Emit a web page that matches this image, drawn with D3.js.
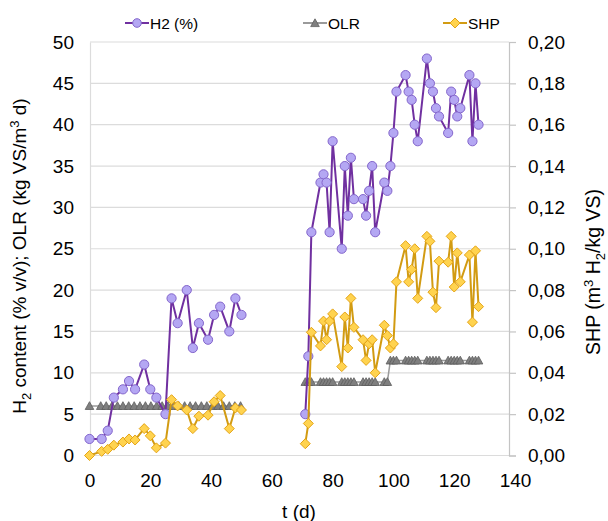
<!DOCTYPE html>
<html><head><meta charset="utf-8">
<script src="https://cdn.jsdelivr.net/npm/d3@7"></script>
<style>
html,body{margin:0;padding:0;background:#fff;}
text{font-family:"Liberation Sans",Arial,sans-serif;fill:#000;}
</style></head>
<body><svg id="c" width="608" height="521"></svg>
<script>
// ---------- data ----------
const xTicks = [0,20,40,60,80,100,120,140];
const leftTicks = [0,5,10,15,20,25,30,35,40,45,50];
const rightTicks = [0,0.02,0.04,0.06,0.08,0.10,0.12,0.14,0.16,0.18,0.20];

// phase 1 (days 0-50)
const tP1 = [0,4,6,8,11,13,15,18,20,22,25,27,29,32,34,36,39,41,43,46,48,50];
const h2P1 = [2,2,3,7,8,9,8,11,8,7,5,19,16,20,13,16,14,17,18,15,19,17];
const shpP1 = [0.000,0.002,0.003,0.005,0.0065,0.008,0.0075,0.013,0.0095,0.0037,0.006,0.027,0.024,0.022,0.013,0.019,0.0195,0.026,0.029,0.013,0.023,0.022];

// phase 2 (days 71-128)
const tP2 = [71,72,73,76,77,78,79,80,83,84,85,86,87,90,91,92,93,94,97,98,99,100,101,104,105,106,107,108,111,112,113,114,115,118,119,120,121,122,125,126,127,128];
const h2P2 = [5,12,27,33,34,33,27,38,25,35,29,36,31,31,29,32,35,27,33,32,35,39,44,46,44,43,40,38,48,45,44,42,41,39,44,43,41,42,46,38,45,40];
const shpP2 = [0.0057,0.0155,0.0596,0.053,0.065,0.056,0.065,0.0685,0.043,0.067,0.052,0.076,0.062,0.056,0.046,0.054,0.056,0.040,0.063,0.058,0.052,0.054,0.084,0.1015,0.084,0.090,0.100,0.076,0.106,0.1036,0.079,0.0715,0.094,0.0935,0.106,0.0815,0.098,0.084,0.097,0.0645,0.099,0.072];

// OLR
const tOlr1 = [0,3.7,5.5,7.4,9.2,11,12.9,14.7,16.6,18.4,20.2,22.1,23.9,25.8,27.6,29.4,31.3,33.1,34.9,36.8,38.6,40.5,42.3,44.1,46,47.8,49.7];
const olr1 = [6,6,6,6,6,6,6,6,6,6,6,6,6,6,6,6,6,6,6,6,6,6,6,6,6,6,6];
const tOlr2 = [71,72,73,76,77,78,79,80,83,84,85,86,87,90,91,92,93,94,97,98,99,100,101,104,105,106,107,108,111,112,113,114,115,118,119,120,121,122,125,126,127,128];
const olr2 = [8.9,8.9,8.9,8.9,8.9,8.9,8.9,8.9,8.9,8.9,8.9,8.9,8.9,8.9,8.9,8.9,8.9,8.9,8.9,8.9,11.5,11.5,11.5,11.5,11.5,11.5,11.5,11.5,11.5,11.5,11.5,11.5,11.5,11.5,11.5,11.5,11.5,11.5,11.5,11.5,11.5,11.5];

// ---------- layout ----------
const svg = d3.select("#c");
const L = 90, R = 509, T = 42, B = 455.5;
const x = d3.scaleLinear().domain([0,140]).range([89.5,515]);
const yL = d3.scaleLinear().domain([0,50]).range([B,T]);
const yR = d3.scaleLinear().domain([0,0.2]).range([B,T]);

const C = {
  h2Line:"#7030A0", h2Fill:"#B4A7F3", h2Stroke:"#8466CC",
  shpLine:"#D29B12", shpFill:"#FFD34F", shpStroke:"#E4A416",
  olrLine:"#9A9A9A", olrFill:"#7F7F7F", olrStroke:"#5E5E5E",
  grid:"#DCDCDC", axis:"#C4C4C4"
};

// gridlines
svg.append("g").selectAll("line").data(leftTicks.filter(d=>d>0)).join("line")
  .attr("x1",L).attr("x2",R).attr("y1",d=>yL(d)).attr("y2",d=>yL(d))
  .attr("stroke",C.grid).attr("stroke-width",1.2);

// left axis
const gL = svg.append("g").attr("transform",`translate(${L},0)`)
  .call(d3.axisLeft(yL).tickValues(leftTicks).tickSize(0).tickPadding(16));
gL.select(".domain").attr("stroke",C.grid).attr("stroke-width",1.2);
gL.selectAll("text").style("font-size","19px").style("font-family","Liberation Sans, Arial, sans-serif");

// bottom axis
const gB = svg.append("g").attr("transform",`translate(0,${B})`)
  .call(d3.axisBottom(x).tickValues(xTicks).tickSize(0).tickPadding(18));
gB.select(".domain").remove();
gB.selectAll("text").style("font-size","19px").style("font-family","Liberation Sans, Arial, sans-serif");
svg.append("line").attr("x1",L).attr("x2",R).attr("y1",B).attr("y2",B)
  .attr("stroke",C.grid).attr("stroke-width",1.2);

// right axis
const gR = svg.append("g").attr("transform",`translate(${R},0)`)
  .call(d3.axisRight(yR).tickValues(rightTicks).tickSize(7).tickPadding(12)
    .tickFormat(d=>d.toFixed(2).replace(".",",")));
gR.select(".domain").attr("stroke",C.axis).attr("stroke-width",1.2);
gR.selectAll("line").attr("stroke",C.axis).attr("stroke-width",1.2);
gR.selectAll("text").style("font-size","19px").style("font-family","Liberation Sans, Arial, sans-serif");

// ---------- series ----------
const zip = (ts,vs)=>ts.map((t,i)=>({t,v:vs[i]}));
const lineL = d3.line().x(d=>x(d.t)).y(d=>yL(d.v));
const lineR = d3.line().x(d=>x(d.t)).y(d=>yR(d.v));

const tri = (cx,cy)=>`M${cx-4.3},${cy+3.6}L${cx},${cy-4.2}L${cx+4.3},${cy+3.6}Z`;
const dia = (cx,cy)=>`M${cx},${cy-5}L${cx+5},${cy}L${cx},${cy+5}L${cx-5},${cy}Z`;

// OLR
[zip(tOlr1,olr1), zip(tOlr2,olr2)].forEach(data=>{
  svg.append("path").datum(data).attr("d",lineL).attr("fill","none")
    .attr("stroke",C.olrLine).attr("stroke-width",1.5);
  svg.append("g").selectAll("path").data(data).join("path")
    .attr("d",d=>tri(x(d.t),yL(d.v))).attr("fill",C.olrFill)
    .attr("stroke",C.olrStroke).attr("stroke-width",0.8);
});

// H2
[zip(tP1,h2P1), zip(tP2,h2P2)].forEach(data=>{
  svg.append("path").datum(data).attr("d",lineL).attr("fill","none")
    .attr("stroke",C.h2Line).attr("stroke-width",2);
  svg.append("g").selectAll("circle").data(data).join("circle")
    .attr("cx",d=>x(d.t)).attr("cy",d=>yL(d.v)).attr("r",4.6)
    .attr("fill",C.h2Fill).attr("stroke",C.h2Stroke).attr("stroke-width",1);
});

// SHP
[zip(tP1,shpP1), zip(tP2,shpP2)].forEach(data=>{
  svg.append("path").datum(data).attr("d",lineR).attr("fill","none")
    .attr("stroke",C.shpLine).attr("stroke-width",2);
  svg.append("g").selectAll("path").data(data).join("path")
    .attr("d",d=>dia(x(d.t),yR(d.v))).attr("fill",C.shpFill)
    .attr("stroke",C.shpStroke).attr("stroke-width",1);
});

// ---------- titles ----------
const lt = svg.append("text").attr("transform","translate(26,256) rotate(-90)")
  .attr("text-anchor","middle").style("font-size","19px");
lt.append("tspan").text("H");
lt.append("tspan").attr("dy",5).style("font-size","13px").text("2");
lt.append("tspan").attr("dy",-5).text(" content (% v/v); OLR (kg VS/m");
lt.append("tspan").attr("dy",-7).style("font-size","13px").text("3");
lt.append("tspan").attr("dy",7).text(" d)");

const rt = svg.append("text").attr("transform","translate(600,272) rotate(-90)")
  .attr("text-anchor","middle").style("font-size","19.5px");
rt.append("tspan").text("SHP (m");
rt.append("tspan").attr("dy",-7).style("font-size","13px").text("3");
rt.append("tspan").attr("dy",7).text(" H");
rt.append("tspan").attr("dy",5).style("font-size","13px").text("2");
rt.append("tspan").attr("dy",-5).text("/kg VS)");

svg.append("text").attr("x",299).attr("y",518).attr("text-anchor","middle")
  .style("font-size","19px").text("t (d)");

// ---------- legend ----------
const legY = 23;
const legend = [
  {name:"H2 (%)", x0:125, kind:"c"},
  {name:"OLR", x0:303, kind:"t"},
  {name:"SHP", x0:443, kind:"d"}
];
legend.forEach(l=>{
  const g = svg.append("g");
  const col = l.kind==="c"?C.h2Line:l.kind==="t"?C.olrLine:C.shpLine;
  g.append("line").attr("x1",l.x0).attr("x2",l.x0+24).attr("y1",legY).attr("y2",legY)
    .attr("stroke",col).attr("stroke-width",2);
  const cx = l.x0+12;
  if(l.kind==="c") g.append("circle").attr("cx",cx).attr("cy",legY).attr("r",4.3)
    .attr("fill",C.h2Fill).attr("stroke",C.h2Stroke);
  if(l.kind==="t") g.append("path").attr("d",tri(cx,legY)).attr("fill",C.olrFill).attr("stroke",C.olrStroke).attr("stroke-width",0.8);
  if(l.kind==="d") g.append("path").attr("d",dia(cx,legY)).attr("fill",C.shpFill).attr("stroke",C.shpStroke);
  g.append("text").attr("x",l.x0+25).attr("y",legY+5.5).style("font-size","15.5px").text(l.name);
});
</script></body></html>
